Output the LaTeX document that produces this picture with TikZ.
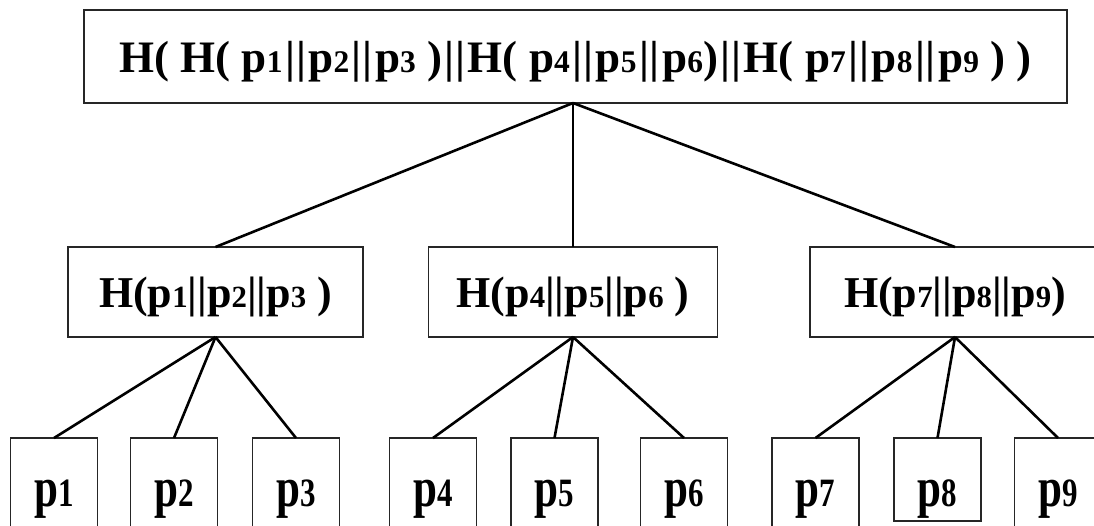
\documentclass[tikz,border=0pt]{standalone}
\usepackage{fontspec}
\setmainfont{Liberation Serif}
\usepackage{graphicx}
\newcommand\sbx[1]{\scalebox{0.7}{#1}}
\newcommand\bb{\kern2.5pt|\kern1pt|\kern2.5pt}
\newcommand\lf[1]{\scalebox{1}[1.3]{p\scalebox{0.72}{#1}}}
\begin{document}
\begin{tikzpicture}[x=1pt,y=-1pt,
  box/.style={draw=black!85,line width=1.6pt,inner sep=0pt,outer sep=0pt,font=\bfseries},
  topbox/.style={box,minimum width=983pt,minimum height=93pt,text height=36pt,text depth=5pt,font=\fontsize{45}{48}\selectfont\bfseries},
  midbox/.style={box,minimum width=292pt,minimum height=90pt,text height=35pt,text depth=5pt,font=\fontsize{44}{48}\selectfont\bfseries},
  leafbox/.style={box,minimum width=87pt,minimum height=90pt,text height=50pt,text depth=4pt,font=\fontsize{43}{46}\selectfont\bfseries},
  link/.style={line width=2.6pt,black}]
\path[use as bounding box,clip] (0,0) rectangle (1094,525);
\node[topbox] (top) at (575.5,56.5) {H( H( p\sbx{1}\bb p\sbx{2}\bb p\sbx{3} )\bb H( p\sbx{4}\bb p\sbx{5}\bb p\sbx{6})\bb H( p\sbx{7}\bb p\sbx{8}\bb p\sbx{9} ) )};
\node[midbox,minimum width=295pt] (m1) at (215.5,292) {H(p\sbx{1}||p\sbx{2}||p\sbx{3} )};
\node[midbox,minimum width=289pt] (m2) at (573,292) {H(p\sbx{4}||p\sbx{5}||p\sbx{6} )};
\node[midbox,minimum width=290pt] (m3) at (955,292) {H(p\sbx{7}||p\sbx{8}||p\sbx{9})};
\node[leafbox] (l1) at (54,483) {\lf{1}};
\node[leafbox] (l2) at (174,483) {\lf{2}};
\node[leafbox] (l3) at (296,483) {\lf{3}};
\node[leafbox] (l4) at (433,483) {\lf{4}};
\node[leafbox] (l5) at (554.5,483) {\lf{5}};
\node[leafbox] (l6) at (684,483) {\lf{6}};
\node[leafbox] (l7) at (815.5,483) {\lf{7}};
\node[leafbox,minimum height=83pt,text height=57pt] (l8) at (937.5,479.5) {\lf{8}};
\node[leafbox] (l9) at (1058,483) {\lf{9}};
\coordinate (apex) at (573,103);
\draw[link] (apex) -- (m1.north);
\draw[link] (apex) -- (m2.north);
\draw[link] (apex) -- (m3.north);
\draw[link] (m1.south) -- (l1.north);
\draw[link] (m1.south) -- (l2.north);
\draw[link] (m1.south) -- (l3.north);
\draw[link] (m2.south) -- (l4.north);
\draw[link] (m2.south) -- (l5.north);
\draw[link] (m2.south) -- (l6.north);
\draw[link] (m3.south) -- (l7.north);
\draw[link] (m3.south) -- (l8.north);
\draw[link] (m3.south) -- (l9.north);
\end{tikzpicture}
\end{document}
